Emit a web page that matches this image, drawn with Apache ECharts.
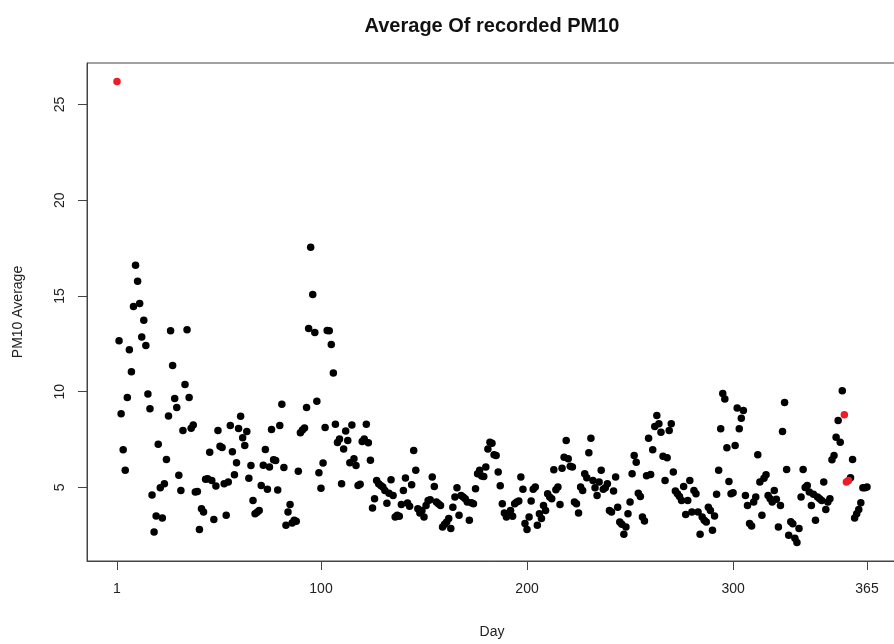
<!DOCTYPE html>
<html>
<head>
<meta charset="utf-8">
<title>Average Of recorded PM10</title>
<script src="https://cdn.jsdelivr.net/npm/echarts@6/dist/echarts.min.js"></script>
<style>
  html, body { margin: 0; padding: 0; background: #ffffff; }
  #chart { width: 894px; height: 644px; }
</style>
</head>
<body>
<div id="chart"></div>
<script>
// Daily PM10 averages, day 1 .. 365 (one value per day)
const pm10 = [
  26.2, 12.66, 8.84, 6.96, 5.89, 9.69, 12.19, 11.04, 14.45, 16.6,
  15.77, 14.6, 12.85, 13.73, 12.41, 9.88, 9.11, 4.6, 2.67, 3.51,
  7.26, 4.98, 3.4, 5.19, 6.46, 8.73, 13.18, 11.37, 9.64, 9.17,
  5.64, 4.84, 7.97, 10.38, 13.23, 9.69, 8.09, 8.26, 4.76, 4.79,
  2.8, 3.89, 3.71, 5.43, 5.45, 6.84, 5.36, 3.33, 5.07, 7.97,
  7.15, 7.08, 5.19, 3.54, 5.28, 8.23, 6.86, 5.66, 6.29, 8.07,
  8.71, 7.59, 7.19, 7.92, 5.48, 6.15, 4.32, 3.63, 3.7, 3.8,
  5.1, 6.16, 6.98, 4.91, 6.06, 8.02, 6.44, 6.41, 4.86, 8.23,
  9.34, 6.04, 3.02, 3.71, 4.11, 3.14, 3.28, 3.23, 5.85, 7.85,
  8.0, 8.1, 9.17, 13.3, 17.54, 15.07, 13.09, 9.5, 5.76, 4.96,
  6.27, 8.13, 13.19, 13.18, 12.46, 10.97, 8.3, 7.34, 7.53, 5.19,
  7.01, 7.95, 7.45, 6.29, 8.26, 6.49, 6.15, 5.1, 5.16, 7.4,
  7.53, 8.3, 7.33, 6.42, 3.92, 4.41, 5.36, 5.19, 5.1, 5.02,
  4.84, 4.17, 4.7, 5.4, 4.58, 3.45, 3.54, 3.5, 4.11, 4.84,
  5.49, 4.18, 4.01, 5.14, 6.93, 5.89, 3.89, 3.66, 3.8, 3.45,
  4.06, 4.32, 4.36, 5.54, 5.05, 4.24, 4.15, 4.06, 2.93, 3.07,
  3.19, 3.37, 2.85, 3.97, 4.5, 4.98, 3.54, 4.58, 4.5, 4.41,
  4.24, 3.28, 4.2, 4.15, 4.93, 5.71, 5.89, 5.6, 5.57, 6.06,
  7.01, 7.36, 7.3, 6.7, 6.67, 5.8, 5.09, 4.15, 3.66, 3.45,
  3.54, 3.8, 3.49, 4.15, 4.24, 4.29, 5.54, 4.9, 3.11, 2.8,
  3.45, 4.29, 4.9, 5.02, 3.02, 3.63, 3.37, 4.06, 3.8, 4.67,
  4.5, 4.41, 5.92, 4.88, 5.02, 4.11, 6.0, 6.58, 7.45, 6.49,
  6.1, 6.06, 4.24, 4.15, 3.66, 5.02, 4.84, 5.71, 5.5, 6.81,
  7.57, 5.36, 4.98, 4.58, 5.28, 5.89, 4.9, 4.98, 5.19, 3.8,
  3.71, 4.81, 5.54, 3.97, 3.19, 3.07, 2.55, 2.93, 3.63, 4.24,
  5.71, 6.67, 6.32, 4.7, 4.53, 3.45, 3.24, 5.61, 7.57, 5.68,
  6.96, 8.18, 8.75, 8.32, 7.88, 6.63, 5.36, 6.55, 7.97, 8.32,
  5.8, 4.81, 4.67, 4.53, 4.32, 5.05, 3.58, 4.32, 5.36, 3.71,
  4.84, 4.67, 3.71, 2.55, 3.45, 3.28, 3.19, 3.97, 3.8, 2.76,
  3.51, 4.64, 5.89, 8.06, 9.91, 9.62, 7.07, 5.31, 4.67, 4.72,
  7.19, 9.15, 8.06, 8.61, 9.01, 4.58, 4.06, 3.11, 2.98, 4.24,
  4.5, 6.7, 5.28, 3.54, 5.48, 5.66, 4.58, 4.41, 4.24, 4.84,
  4.38, 2.93, 4.06, 7.92, 9.44, 5.94, 2.5, 3.2, 3.1, 2.35,
  2.12, 2.85, 4.5, 5.94, 5.0, 5.1, 4.76, 4.06, 4.64, 3.28,
  4.5, 4.41, 4.32, 5.28, 3.84, 4.24, 4.41, 6.44, 6.67, 7.62,
  8.49, 7.36, 10.05, 8.8, 5.28, 5.36, 5.5, 6.46, 3.4, 3.63,
  3.84, 4.2, 4.98, 4.98, 5.02
];

// Days drawn in red
const highlightDays = [1, 354, 355, 356];

// Axis tick positions
const dayTicks = [1, 100, 200, 300, 365];
const pmTicks = [5, 10, 15, 20, 25];

// Day numbers 1..365
const days = pm10.map((_, i) => i + 1);

const normalPts = [];
const redPts = [];
days.forEach((d, i) => {
  (highlightDays.includes(d) ? redPts : normalPts).push([d, pm10[i]]);
});

// Axis ranges padded 4% beyond the data, as in a base-R plot
const xPad = (365 - 1) * 0.04;
const yMinV = Math.min(...pm10), yMaxV = Math.max(...pm10);
const yPad = (yMaxV - yMinV) * 0.04;

const font = '"Liberation Sans", Arial, sans-serif';
const ink = '#222';

const chart = echarts.init(document.getElementById('chart'), null, { renderer: 'canvas' });
chart.setOption({
  animation: false,
  backgroundColor: '#ffffff',
  title: {
    text: 'Average Of recorded PM10',
    left: 487,
    top: 11,
    textAlign: 'center',
    textStyle: { fontFamily: font, fontSize: 20, fontWeight: 'bold', color: '#111' }
  },
  grid: {
    left: 87, right: -3, top: 63, bottom: 83,
    containLabel: false,
    outerBoundsMode: 'none',
    show: true,
    borderColor: '#444',
    borderWidth: 1,
    backgroundColor: 'transparent'
  },
  xAxis: {
    type: 'value',
    min: 1 - xPad,
    max: 365 + xPad,
    name: 'Day',
    nameLocation: 'middle',
    nameGap: 64,
    nameTextStyle: { fontFamily: font, fontSize: 14, color: ink },
    splitLine: { show: false },
    axisLine: { show: true, onZero: false, lineStyle: { color: '#444', width: 1 } },
    axisTick: { show: true, length: 9, customValues: dayTicks, lineStyle: { color: '#444' } },
    axisLabel: { customValues: dayTicks, margin: 21, fontFamily: font, fontSize: 14, color: ink,
                 showMinLabel: true, showMaxLabel: true }
  },
  yAxis: {
    type: 'value',
    min: yMinV - yPad,
    max: yMaxV + yPad,
    name: 'PM10 Average',
    nameLocation: 'middle',
    nameRotate: 90,
    nameGap: 62,
    nameTextStyle: { fontFamily: font, fontSize: 14, color: ink },
    splitLine: { show: false },
    axisLine: { show: true, onZero: false, lineStyle: { color: '#444', width: 1 } },
    axisTick: { show: true, length: 9, customValues: pmTicks, lineStyle: { color: '#444' } },
    axisLabel: { customValues: pmTicks, rotate: 90, margin: 20, fontFamily: font, fontSize: 14, color: ink }
  },
  series: [
    {
      type: 'scatter',
      data: normalPts,
      symbol: 'circle',
      symbolSize: 7.5,
      itemStyle: { color: '#000000', opacity: 1 },
      silent: true
    },
    {
      type: 'scatter',
      data: redPts,
      symbol: 'circle',
      symbolSize: 7.5,
      itemStyle: { color: '#ee1c25', opacity: 1 },
      silent: true
    }
  ]
});
</script>
</body>
</html>
